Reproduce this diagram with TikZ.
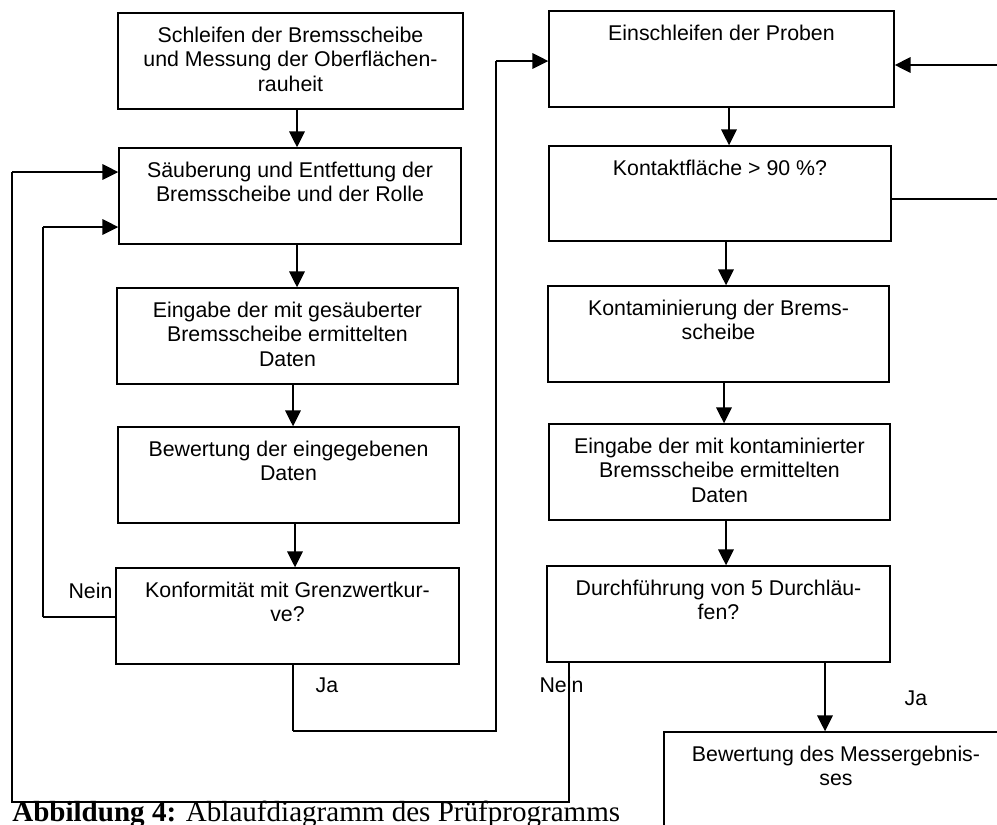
\documentclass[tikz,border=0pt]{standalone}
\usepackage{fontspec}
\setmainfont{Liberation Sans}
\newfontfamily\capfont{Liberation Serif}
\usetikzlibrary{arrows.meta,calc}
\newdimen\pxu \pxu=0.75pt
\newcommand\bt[1]{\parbox[t]{330\pxu}{\centering #1}}
\begin{document}
\begin{tikzpicture}[x=0.75pt,y=-0.75pt,line join=miter,
  box/.style={draw, line width=1pt, inner sep=0pt, rectangle},
  txt/.style={anchor=base, inner sep=0pt, font=\fontsize{16}{18.4}\selectfont},
  arr/.style={line width=1.7pt, -{Triangle[length=12pt,width=11.5pt]}},
  thinln/.style={line width=0.8pt},
  medln/.style={line width=1.2pt},
  thickln/.style={line width=1.9pt}]
\useasboundingbox (0,0) rectangle (997,825);
\clip (0,0) rectangle (997,825);
% left column
\node[box, minimum width=345\pxu, minimum height=96\pxu] (b1) at (290.5,61) {};
\node[box, minimum width=342\pxu, minimum height=96\pxu] (b2) at (290,196) {};
\node[box, minimum width=341\pxu, minimum height=96\pxu] (b3) at (287.5,336) {};
\node[box, minimum width=341\pxu, minimum height=96\pxu] (b4) at (288.5,475) {};
\node[box, minimum width=343\pxu, minimum height=96\pxu] (b5) at (287.5,616) {};
% right column
\node[box, minimum width=345\pxu, minimum height=96\pxu] (b6) at (721.5,59) {};
\node[box, minimum width=342\pxu, minimum height=95\pxu] (b7) at (720,193.5) {};
\node[box, minimum width=341\pxu, minimum height=96\pxu] (b8) at (718.5,334) {};
\node[box, minimum width=341\pxu, minimum height=96\pxu] (b9) at (719.5,472) {};
\node[box, minimum width=343\pxu, minimum height=96\pxu] (b10) at (718.5,614) {};
\node[box, minimum width=344\pxu, minimum height=98\pxu] (b11) at (836,781) {};
% texts
\node[txt] (t1) at ($(b1.north)+(0,30)$) {\bt{Schleifen der Bremsscheibe\\und Messung der Oberflächen-\\rauheit}};
\node[txt] (t2) at ($(b2.north)+(0,30)$) {\bt{Säuberung und Entfettung der\\Bremsscheibe und der Rolle}};
\node[txt] (t3) at ($(b3.north)+(0,30)$) {\bt{Eingabe der mit gesäuberter\\Bremsscheibe ermittelten\\Daten}};
\node[txt] (t4) at ($(b4.north)+(0,30)$) {\bt{Bewertung der eingegebenen\\Daten}};
\node[txt] (t5) at ($(b5.north)+(0,30)$) {\bt{Konformität mit Grenzwertkur-\\ve?}};
\node[txt] (t6) at ($(b6.north)+(0,30)$) {\bt{Einschleifen der Proben}};
\node[txt] (t7) at ($(b7.north)+(0,30)$) {\bt{Kontaktfläche > 90 \%?}};
\node[txt] (t8) at ($(b8.north)+(0,30)$) {\bt{Kontaminierung der Brems-\\scheibe}};
\node[txt] (t9) at ($(b9.north)+(0,30)$) {\bt{Eingabe der mit kontaminierter\\Bremsscheibe ermittelten\\Daten}};
\node[txt] (t10) at ($(b10.north)+(0,30)$) {\bt{Durchführung von 5 Durchläu-\\fen?}};
\node[txt] (t11) at ($(b11.north)+(0,30)$) {\bt{Bewertung des Messergebnis-\\ses}};
% labels
\node[txt] (l1) at (90.5,598) {Nein};
\node[txt] (l2) at (327,692) {Ja};
\node[txt] (l3) at (561.5,692) {Nein};
\node[txt] (l4) at (916,705) {Ja};
% straight arrows
\coordinate (xa) at (297,0);
\coordinate (xb) at (293,0);
\coordinate (xc) at (295,0);
\coordinate (xd) at (729,0);
\coordinate (xe) at (726,0);
\coordinate (xf) at (724,0);
\coordinate (xg) at (825,0);
\draw[arr] (b1.south -| xa) -- (b2.north -| xa);
\draw[arr] (b2.south -| xa) -- (b3.north -| xa);
\draw[arr] (b3.south -| xb) -- (b4.north -| xb);
\draw[arr] (b4.south -| xc) -- (b5.north -| xc);
\draw[arr] (b6.south -| xd) -- (b7.north -| xd);
\draw[arr] (b7.south -| xe) -- (b8.north -| xe);
\draw[arr] (b8.south -| xf) -- (b9.north -| xf);
\draw[arr] (b9.south -| xe) -- (b10.north -| xe);
\draw[arr] (b10.south -| xg) -- (b11.north -| xg);
% outer loop (Nein from b10)
\coordinate (oL) at (12,802);
\coordinate (oR) at (569,0);
\coordinate (oT) at (0,172);
\draw[medln] (b10.south -| oR) |- (oL) -- (oL |- oT);
\draw[arr] (oL |- oT) -- (b2.west |- oT);
% Nein loop from b5
\coordinate (nL) at (43,617);
\coordinate (nT) at (0,227);
\draw[thinln] (b5.west |- nL) -- (nL);
\draw[medln] (nL) -- (nL |- nT);
\draw[arr] (nL |- nT) -- (b2.west |- nT);
% Ja from b5 to b6
\coordinate (jx) at (293,0);
\coordinate (jB) at (496,731);
\coordinate (jT) at (0,61);
\draw[medln] (b5.south -| jx) -- (jx |- jB);
\draw[thickln] (jx |- jB) -- (jB) -- (jB |- jT);
\draw[arr] (jB |- jT) -- (b6.west |- jT);
% right side connectors
\coordinate (rA) at (1000,65);
\coordinate (rB) at (1000,199);
\draw[arr] (rA) -- (b6.east |- rA);
\draw[thinln] (b7.east |- rB) -- (rB);
% caption
\node[anchor=base west, inner sep=0pt, font=\capfont\fontsize{21.8}{24}\selectfont] (cap) at (12,821) {\textbf{Abbildung 4:} Ablaufdiagramm des Prüfprogramms};
\end{tikzpicture}
\end{document}
